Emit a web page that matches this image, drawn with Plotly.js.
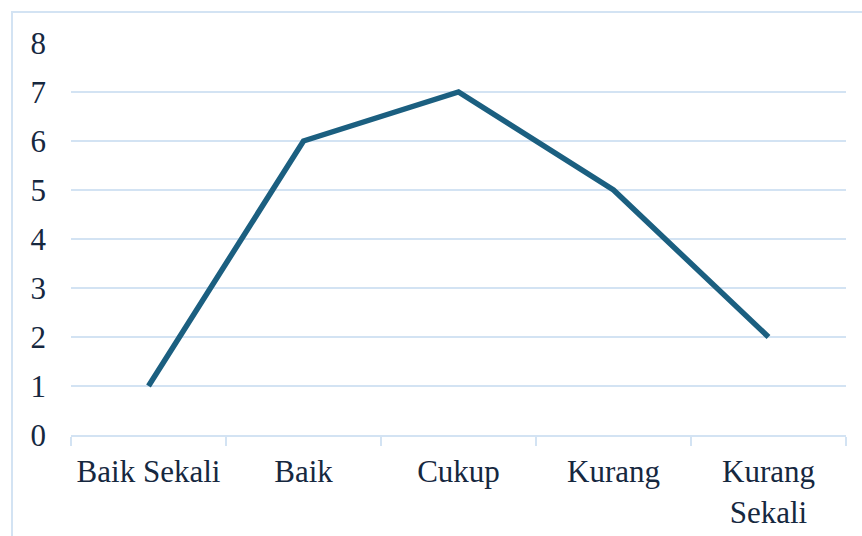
<!DOCTYPE html>
<html>
<head>
<meta charset="utf-8">
<script src="https://cdn.plot.ly/plotly-3.0.1.min.js"></script>
<style>
  html, body { margin: 0; padding: 0; background: #fff; }
  #wrap { position: relative; width: 862px; height: 536px; overflow: hidden; }
  #chart { width: 862px; height: 536px; }
  #frame { position: absolute; left: 11px; top: 11px; width: 900px; height: 600px;
           border-left: 2px solid #D3E3F3; border-top: 2px solid #D3E3F3; pointer-events: none; }
</style>
</head>
<body>
<div id="wrap">
  <div id="chart"></div>
  <div id="frame"></div>
</div>
<script>
const categories = ["Baik Sekali", "Baik", "Cukup", "Kurang", "Kurang<br>Sekali"];
const values = [1, 6, 7, 5, 2];
const yTicks = [0, 1, 2, 3, 4, 5, 6, 7, 8];

const lineColor = "#1B5F80";
const gridColor = "#D3E3F3";
const textColor = "#16283F";
const fontFamily = "'Liberation Serif', 'Times New Roman', serif";

const trace = {
  type: "scatter",
  mode: "lines",
  x: categories,
  y: values,
  line: { color: lineColor, width: 5.5, shape: "linear" },
  hoverinfo: "x+y"
};

const layout = {
  width: 862,
  height: 536,
  margin: { l: 71, r: 16, t: 43, b: 101 },
  paper_bgcolor: "#ffffff",
  plot_bgcolor: "#ffffff",
  showlegend: false,
  font: { family: fontFamily, size: 31, color: textColor },
  xaxis: {
    type: "category",
    range: [-0.5, categories.length - 0.5],
    tickson: "boundaries",
    ticks: "outside",
    ticklen: 9,
    tickwidth: 2,
    tickcolor: gridColor,
    showline: true,
    linecolor: gridColor,
    linewidth: 2,
    showgrid: false,
    zeroline: false,
    ticklabelstandoff: 8,
    tickfont: { family: fontFamily, size: 31, color: textColor }
  },
  yaxis: {
    range: [0, 8],
    tickvals: yTicks,
    ticktext: yTicks.map(String),
    showgrid: true,
    gridcolor: gridColor,
    gridwidth: 2,
    zeroline: false,
    showline: false,
    ticks: "",
    ticklabelstandoff: 24,
    tickfont: { family: fontFamily, size: 31, color: textColor }
  }
};

Plotly.newPlot("chart", [trace], layout, { displayModeBar: false, staticPlot: true });
</script>
</body>
</html>
